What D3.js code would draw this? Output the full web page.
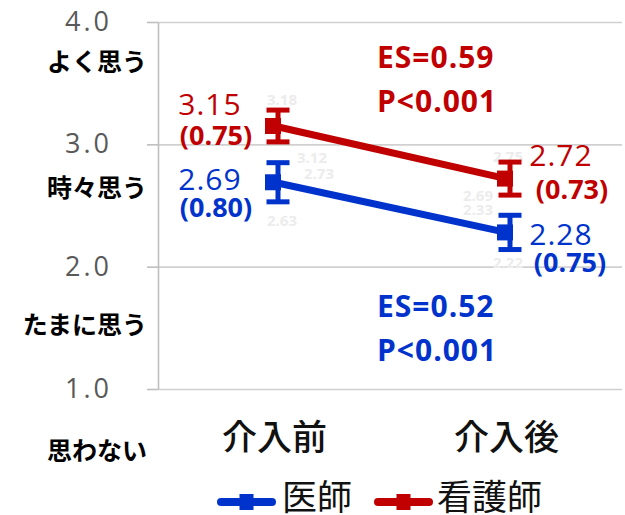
<!DOCTYPE html>
<html>
<head>
<meta charset="utf-8">
<script src="https://cdn.jsdelivr.net/npm/d3@7"></script>
<style>
  html, body { margin: 0; padding: 0; background: #ffffff; }
  svg { display: block; }
</style>
</head>
<body>
<svg id="chart" width="625" height="515"></svg>
<script>
// Intervention periods and groups
const periods = ["介入前", "介入後"];
const groupNames = ["医師", "看護師"];

// Mean score, SD and 95% CI half-width per period
const doctorMean = [2.69, 2.28];
const doctorSD = [0.80, 0.75];
const doctorCI = [0.16, 0.14];
const nurseMean = [3.15, 2.72];
const nurseSD = [0.75, 0.73];
const nurseCI = [0.13, 0.135];

// Faint leftover bound labels beside each point
const doctorFaintHigh = [2.73, 2.33];
const doctorFaintLow = [2.63, 2.22];
const nurseFaintHigh = [3.18, 2.75];
const nurseFaintLow = [3.12, 2.69];

// Effect size and significance for each group
const doctorStats = ["ES=0.52", "P<0.001"];
const nurseStats = ["ES=0.59", "P<0.001"];

// Y axis ticks and the response scale wording
const yTicks = [1.0, 2.0, 3.0, 4.0];
const likertLabels = ["思わない", "たまに思う", "時々思う", "よく思う"];
const likertAt = [0.5, 1.53, 2.65, 3.68];

const BLUE = "#0033cc";
const RED = "#c00000";
const LATIN = "'Open Sans', 'Noto Sans', sans-serif";
const CJK = "'Noto Sans CJK JP', sans-serif";

const svg = d3.select("#chart");
const plot = { left: 158, right: 622, top: 22, bottom: 389 };

const x = d3.scalePoint().domain(periods).range([plot.left, plot.right]).padding(0.5);
const y = d3.scaleLinear().domain([1, 4]).range([plot.bottom, plot.top]);

// Horizontal gridlines
svg.append("g")
  .attr("transform", `translate(${plot.left},0)`)
  .call(d3.axisLeft(y).tickValues(yTicks).tickSize(-(plot.right - plot.left)).tickFormat(""))
  .call(g => g.select(".domain").remove())
  .call(g => g.selectAll(".tick line").attr("stroke", "#d0d0d0").attr("stroke-width", 1.6));

// Left axis: ticks, line and numeric labels
svg.append("g")
  .attr("transform", `translate(${plot.left},0)`)
  .call(d3.axisLeft(y).tickValues(yTicks).tickSize(11).tickSizeOuter(0).tickPadding(35).tickFormat(d3.format(".1f")))
  .call(g => g.select(".domain").attr("stroke", "#bfbfbf").attr("stroke-width", 1.6))
  .call(g => g.selectAll(".tick line").attr("stroke", "#bfbfbf").attr("stroke-width", 1.6))
  .call(g => g.selectAll(".tick text")
    .attr("fill", "#595959")
    .attr("font-family", LATIN)
    .attr("font-size", 27)
    .attr("letter-spacing", 3));

// Response wording under each tick
svg.append("g").selectAll("text")
  .data(likertLabels)
  .join("text")
  .attr("x", 147)
  .attr("y", (d, i) => y(likertAt[i]) + 9.5)
  .attr("text-anchor", "end")
  .attr("font-family", CJK)
  .attr("font-weight", 700)
  .attr("font-size", 25)
  .attr("fill", "#000")
  .text(d => d);

// Bottom category axis
svg.append("g")
  .attr("transform", `translate(0,${plot.bottom})`)
  .call(d3.axisBottom(x).tickSize(0).tickPadding(0))
  .call(g => g.select(".domain").remove())
  .call(g => g.selectAll(".tick text")
    .attr("dy", 0)
    .attr("y", 61)
    .attr("font-family", CJK)
    .attr("font-weight", 500)
    .attr("font-size", 35)
    .attr("fill", "#111"));

const groups = [
  { name: groupNames[0], color: BLUE, mean: doctorMean, sd: doctorSD, ci: doctorCI,
    hi: doctorFaintHigh, lo: doctorFaintLow,
    meanOff: [[-64, 8], [55, 12.5]], sdOff: [[-58, 35], [64, 40]],
    hiOff: [[45, -3], [-28, -17.5]], loOff: [[8, 44], [2, 35.5]] },
  { name: groupNames[1], color: RED, mean: nurseMean, sd: nurseSD, ci: nurseCI,
    hi: nurseFaintHigh, lo: nurseFaintLow,
    meanOff: [[-64, -11], [55, -12.5]], sdOff: [[-58, 19], [66, 20]],
    hiOff: [[8, -21], [2, -17]], loOff: [[38, 37], [-28, 22]] }
];

const line = d3.line().x(d => x(d.p)).y(d => y(d.v));

groups.forEach(gr => {
  const pts = periods.map((p, i) => ({ p, v: gr.mean[i], sd: gr.sd[i], ci: gr.ci[i], i }));
  const g = svg.append("g");

  // faint bound labels
  g.selectAll("text.faint")
    .data(pts.flatMap(d => [
      { t: gr.hi[d.i], x: x(d.p) + gr.hiOff[d.i][0], y: y(d.v) + gr.hiOff[d.i][1] },
      { t: gr.lo[d.i], x: x(d.p) + gr.loOff[d.i][0], y: y(d.v) + gr.loOff[d.i][1] }
    ]))
    .join("text")
    .attr("class", "faint")
    .attr("x", d => d.x).attr("y", d => d.y)
    .attr("text-anchor", "middle")
    .attr("font-family", LATIN).attr("font-weight", 700).attr("font-size", 15)
    .attr("fill", "#ececec")
    .text(d => d3.format(".2f")(d.t));

  g.append("path")
    .datum(pts)
    .attr("d", line)
    .attr("fill", "none")
    .attr("stroke", gr.color)
    .attr("stroke-width", 7);

  g.selectAll("rect.marker")
    .data(pts)
    .join("rect")
    .attr("class", "marker")
    .attr("x", d => x(d.p) - 9).attr("y", d => y(d.v) - 8)
    .attr("width", 16).attr("height", 16)
    .attr("fill", gr.color);

  // error bars
  const eb = g.selectAll("g.err").data(pts).join("g").attr("class", "err")
    .attr("stroke", gr.color).attr("stroke-width", 5);
  eb.append("line")
    .attr("x1", d => x(d.p) + 4).attr("x2", d => x(d.p) + 4)
    .attr("y1", d => y(d.v + d.ci)).attr("y2", d => y(d.v - d.ci));
  eb.append("line")
    .attr("x1", d => x(d.p) + 4 - 11.5).attr("x2", d => x(d.p) + 4 + 11.5)
    .attr("y1", d => y(d.v + d.ci)).attr("y2", d => y(d.v + d.ci));
  eb.append("line")
    .attr("x1", d => x(d.p) + 4 - 11.5).attr("x2", d => x(d.p) + 4 + 11.5)
    .attr("y1", d => y(d.v - d.ci)).attr("y2", d => y(d.v - d.ci));

  // mean and (SD) labels
  g.selectAll("text.mean")
    .data(pts).join("text").attr("class", "mean")
    .attr("x", d => x(d.p) + gr.meanOff[d.i][0])
    .attr("y", d => y(d.v) + gr.meanOff[d.i][1])
    .attr("text-anchor", "middle")
    .attr("font-family", LATIN).attr("font-size", 30)
    .attr("letter-spacing", 1)
    .attr("fill", gr.color)
    .text(d => d3.format(".2f")(d.v));
  g.selectAll("text.sd")
    .data(pts).join("text").attr("class", "sd")
    .attr("x", d => x(d.p) + gr.sdOff[d.i][0])
    .attr("y", d => y(d.v) + gr.sdOff[d.i][1])
    .attr("text-anchor", "middle")
    .attr("font-family", LATIN).attr("font-weight", 700).attr("font-size", 27)
    .attr("fill", gr.color)
    .text(d => `(${d3.format(".2f")(d.sd)})`);
});

// Effect size annotations
function statBlock(lines, color, top) {
  svg.append("g").selectAll("text")
    .data(lines).join("text")
    .attr("x", 377)
    .attr("y", (d, i) => top + i * 44)
    .attr("font-family", LATIN).attr("font-weight", 700).attr("font-size", 30)
    .attr("letter-spacing", 1)
    .attr("fill", color)
    .text(d => d);
}
statBlock(nurseStats, RED, 68);
statBlock(doctorStats, BLUE, 317);

// Legend
const legend = svg.append("g");
const legendItems = [
  { name: groupNames[0], color: BLUE, x0: 218, x1: 275, tx: 282 },
  { name: groupNames[1], color: RED, x0: 375, x1: 432, tx: 437 }
];
legendItems.forEach(it => {
  legend.append("line")
    .attr("x1", it.x0 + 3).attr("x2", it.x1 - 3)
    .attr("y1", 502).attr("y2", 502)
    .attr("stroke", it.color).attr("stroke-width", 8).attr("stroke-linecap", "round");
  legend.append("rect")
    .attr("x", (it.x0 + it.x1) / 2 - 7).attr("y", 494)
    .attr("width", 14).attr("height", 16)
    .attr("fill", it.color);
  legend.append("text")
    .attr("x", it.tx).attr("y", 510)
    .attr("font-family", CJK).attr("font-size", 35)
    .attr("fill", "#111")
    .text(it.name);
});
</script>
</body>
</html>
